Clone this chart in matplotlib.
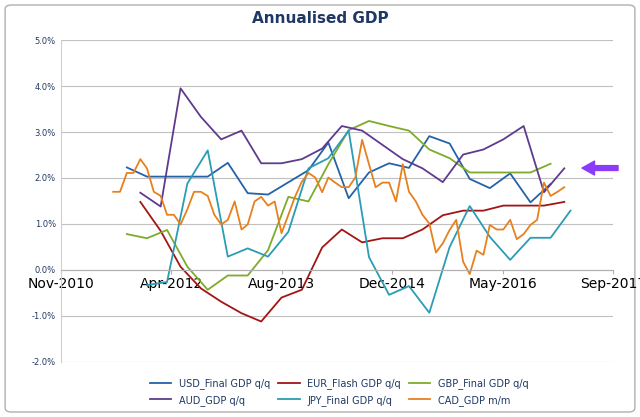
import numpy as np
import pandas as pd
import matplotlib
matplotlib.use('Agg')
import matplotlib.pyplot as plt
from matplotlib.patches import FancyBboxPatch

# quarterly dates (mid month)
usdDates = ['2011-09', '2011-12', '2012-03', '2012-06', '2012-09', '2012-12', '2013-03', '2013-06',
            '2013-12', '2014-03', '2014-06', '2014-09', '2014-12', '2015-03', '2015-06', '2015-09',
            '2015-12', '2016-03', '2016-06', '2016-09', '2016-12']
usdVals = [2.23, 2.03, 2.03, 2.03, 2.03, 2.33, 1.67, 1.64, 2.17, 2.77, 1.56, 2.12, 2.32, 2.22,
           2.91, 2.75, 1.98, 1.78, 2.10, 1.47, 1.87]

gbpDates = ['2011-09', '2011-12', '2012-03', '2012-06', '2012-09', '2012-12', '2013-03', '2013-06',
            '2013-09', '2013-12', '2014-03', '2014-06', '2014-09', '2014-12', '2015-03', '2015-06',
            '2015-09', '2015-12', '2016-03', '2016-06', '2016-09', '2016-12']
gbpVals = [0.78, 0.69, 0.87, 0.07, -0.43, -0.12, -0.12, 0.43, 1.59, 1.49, 2.3, 3.04, 3.24, 3.13,
           3.03, 2.62, 2.43, 2.12, 2.12, 2.12, 2.12, 2.31]

audDates = ['2011-11', '2012-02', '2012-05', '2012-08', '2012-11', '2013-02', '2013-05', '2013-08',
            '2013-11', '2014-02', '2014-05', '2014-08', '2014-11', '2015-02', '2015-05', '2015-08',
            '2015-11', '2016-02', '2016-05', '2016-08', '2016-11', '2017-02']
audVals = [1.68, 1.38, 3.95, 3.33, 2.84, 3.03, 2.32, 2.32, 2.41, 2.64, 3.13, 3.03, 2.72, 2.41,
           2.21, 1.91, 2.51, 2.62, 2.84, 3.13, 1.69, 2.21]
eurDates = audDates
eurVals = [1.48, 0.85, 0.07, -0.4, -0.69, -0.94, -1.12, -0.6, -0.43, 0.49, 0.88, 0.6, 0.69, 0.69,
           0.88, 1.19, 1.29, 1.29, 1.4, 1.4, 1.4, 1.48]

jpyDates = ['2011-12', '2012-03', '2012-06', '2012-09', '2012-12', '2013-03', '2013-06', '2013-09',
            '2013-12', '2014-03', '2014-06', '2014-09', '2014-12', '2015-03', '2015-06', '2015-09',
            '2015-12', '2016-03', '2016-06', '2016-09', '2016-12', '2017-03']
jpyVals = [-0.33, -0.26, 1.88, 2.6, 0.29, 0.47, 0.29, 0.83, 2.21, 2.43, 3.03, 0.28, -0.54, -0.35,
           -0.93, 0.5, 1.39, 0.72, 0.22, 0.7, 0.7, 1.29]

# monthly, Jul 2011 .. Feb 2017
cadStart = '2011-07-01'
cadVals = [1.70, 1.70, 2.11, 2.11, 2.41, 2.21, 1.70, 1.61, 1.20, 1.20, 0.99, 1.32, 1.70, 1.70,
           1.61, 1.20, 0.99, 1.09, 1.49, 0.88, 0.99, 1.49, 1.59, 1.40, 1.49, 0.80, 1.20, 1.59,
           1.92, 2.11, 2.01, 1.69, 2.01, 1.90, 1.80, 1.80, 2.01, 2.83, 2.30, 1.80, 1.90, 1.90,
           1.49, 2.30, 1.70, 1.49, 1.20, 1.01, 0.38, 0.58, 0.87, 1.09, 0.18, -0.09, 0.42, 0.33,
           0.98, 0.88, 0.88, 1.09, 0.67, 0.78, 0.98, 1.09, 1.90, 1.61, 1.70, 1.80]

tickStart = '2010-11-20'
tickLabels = ['Nov-2010', 'Apr-2012', 'Aug-2013', 'Dec-2014', 'May-2016', 'Sep-2017']


def toDates(months):
    return pd.to_datetime([m + '-15' for m in months])


fig = plt.figure(figsize=(6.4, 4.17), dpi=100)
border = FancyBboxPatch((0.008, 0.012), 0.984, 0.976, boxstyle='round,pad=0,rounding_size=0.01',
                        transform=fig.transFigure, fc='white', ec='#b0b0b0', lw=1, zorder=-10)
fig.patches.append(border)
ax = fig.add_axes([0.095, 0.132, 0.863, 0.772])
ax.patch.set_alpha(0)

series = [
    (toDates(usdDates), usdVals, '#2463A8', 'USD_Final GDP q/q'),
    (toDates(eurDates), eurVals, '#A31515', 'EUR_Flash GDP q/q'),
    (toDates(gbpDates), gbpVals, '#7FAB2A', 'GBP_Final GDP q/q'),
    (toDates(audDates), audVals, '#5E3B8E', 'AUD_GDP q/q'),
    (toDates(jpyDates), jpyVals, '#2A9CB4', 'JPY_Final GDP q/q'),
    (pd.date_range(cadStart, periods=len(cadVals), freq='MS') + pd.Timedelta(days=14), cadVals,
     '#E8801E', 'CAD_GDP m/m'),
]
for d, v, c, name in series:
    ax.plot(d, v, color=c, lw=1.3, label=name)

ticks = pd.date_range(tickStart, periods=len(tickLabels), freq='500D')
ax.set_xlim(ticks[0], ticks[-1])
ax.set_xticks(ticks)
ax.set_xticklabels(tickLabels, rotation=90, fontsize=6, color='#1F3864')
ax.set_ylim(-2, 5)
ax.set_yticks(np.arange(-2, 6, 1))
ax.set_yticklabels(['%.1f%%' % t for t in np.arange(-2, 6, 1)], fontsize=6, color='#1F3864')
ax.yaxis.grid(True, color='#c0c0c0', lw=0.8)
ax.set_axisbelow(True)
ax.spines['bottom'].set_position(('data', 0))
ax.spines['bottom'].set_color('#b0b0b0')
ax.spines['left'].set_color('#d0d0d0')
ax.spines['top'].set_visible(False)
ax.spines['right'].set_visible(False)
ax.tick_params(axis='x', length=3, color='#b0b0b0', pad=2)
ax.tick_params(axis='y', length=0)

fig.text(0.5, 0.955, 'Annualised GDP', ha='center', va='center', fontsize=11,
         fontweight='bold', color='#1F3864')

# legend filled row by row like the original
h, l = ax.get_legend_handles_labels()
order = [0, 3, 1, 4, 2, 5]
fig.legend([h[i] for i in order], [l[i] for i in order], loc='center',
           bbox_to_anchor=(0.53, 0.06), ncol=3, fontsize=7, frameon=False,
           handlelength=2.2, columnspacing=0.8, labelspacing=0.6, labelcolor='#1F3864')

ax.annotate('', xy=(0.905, 0.597), xytext=(0.97, 0.597), xycoords='figure fraction',
            arrowprops=dict(arrowstyle='simple,head_width=1.0,head_length=0.9,tail_width=0.35',
                            fc='#8B3CF7', ec='#8B3CF7'))

fig.savefig('out.png', dpi=100)
